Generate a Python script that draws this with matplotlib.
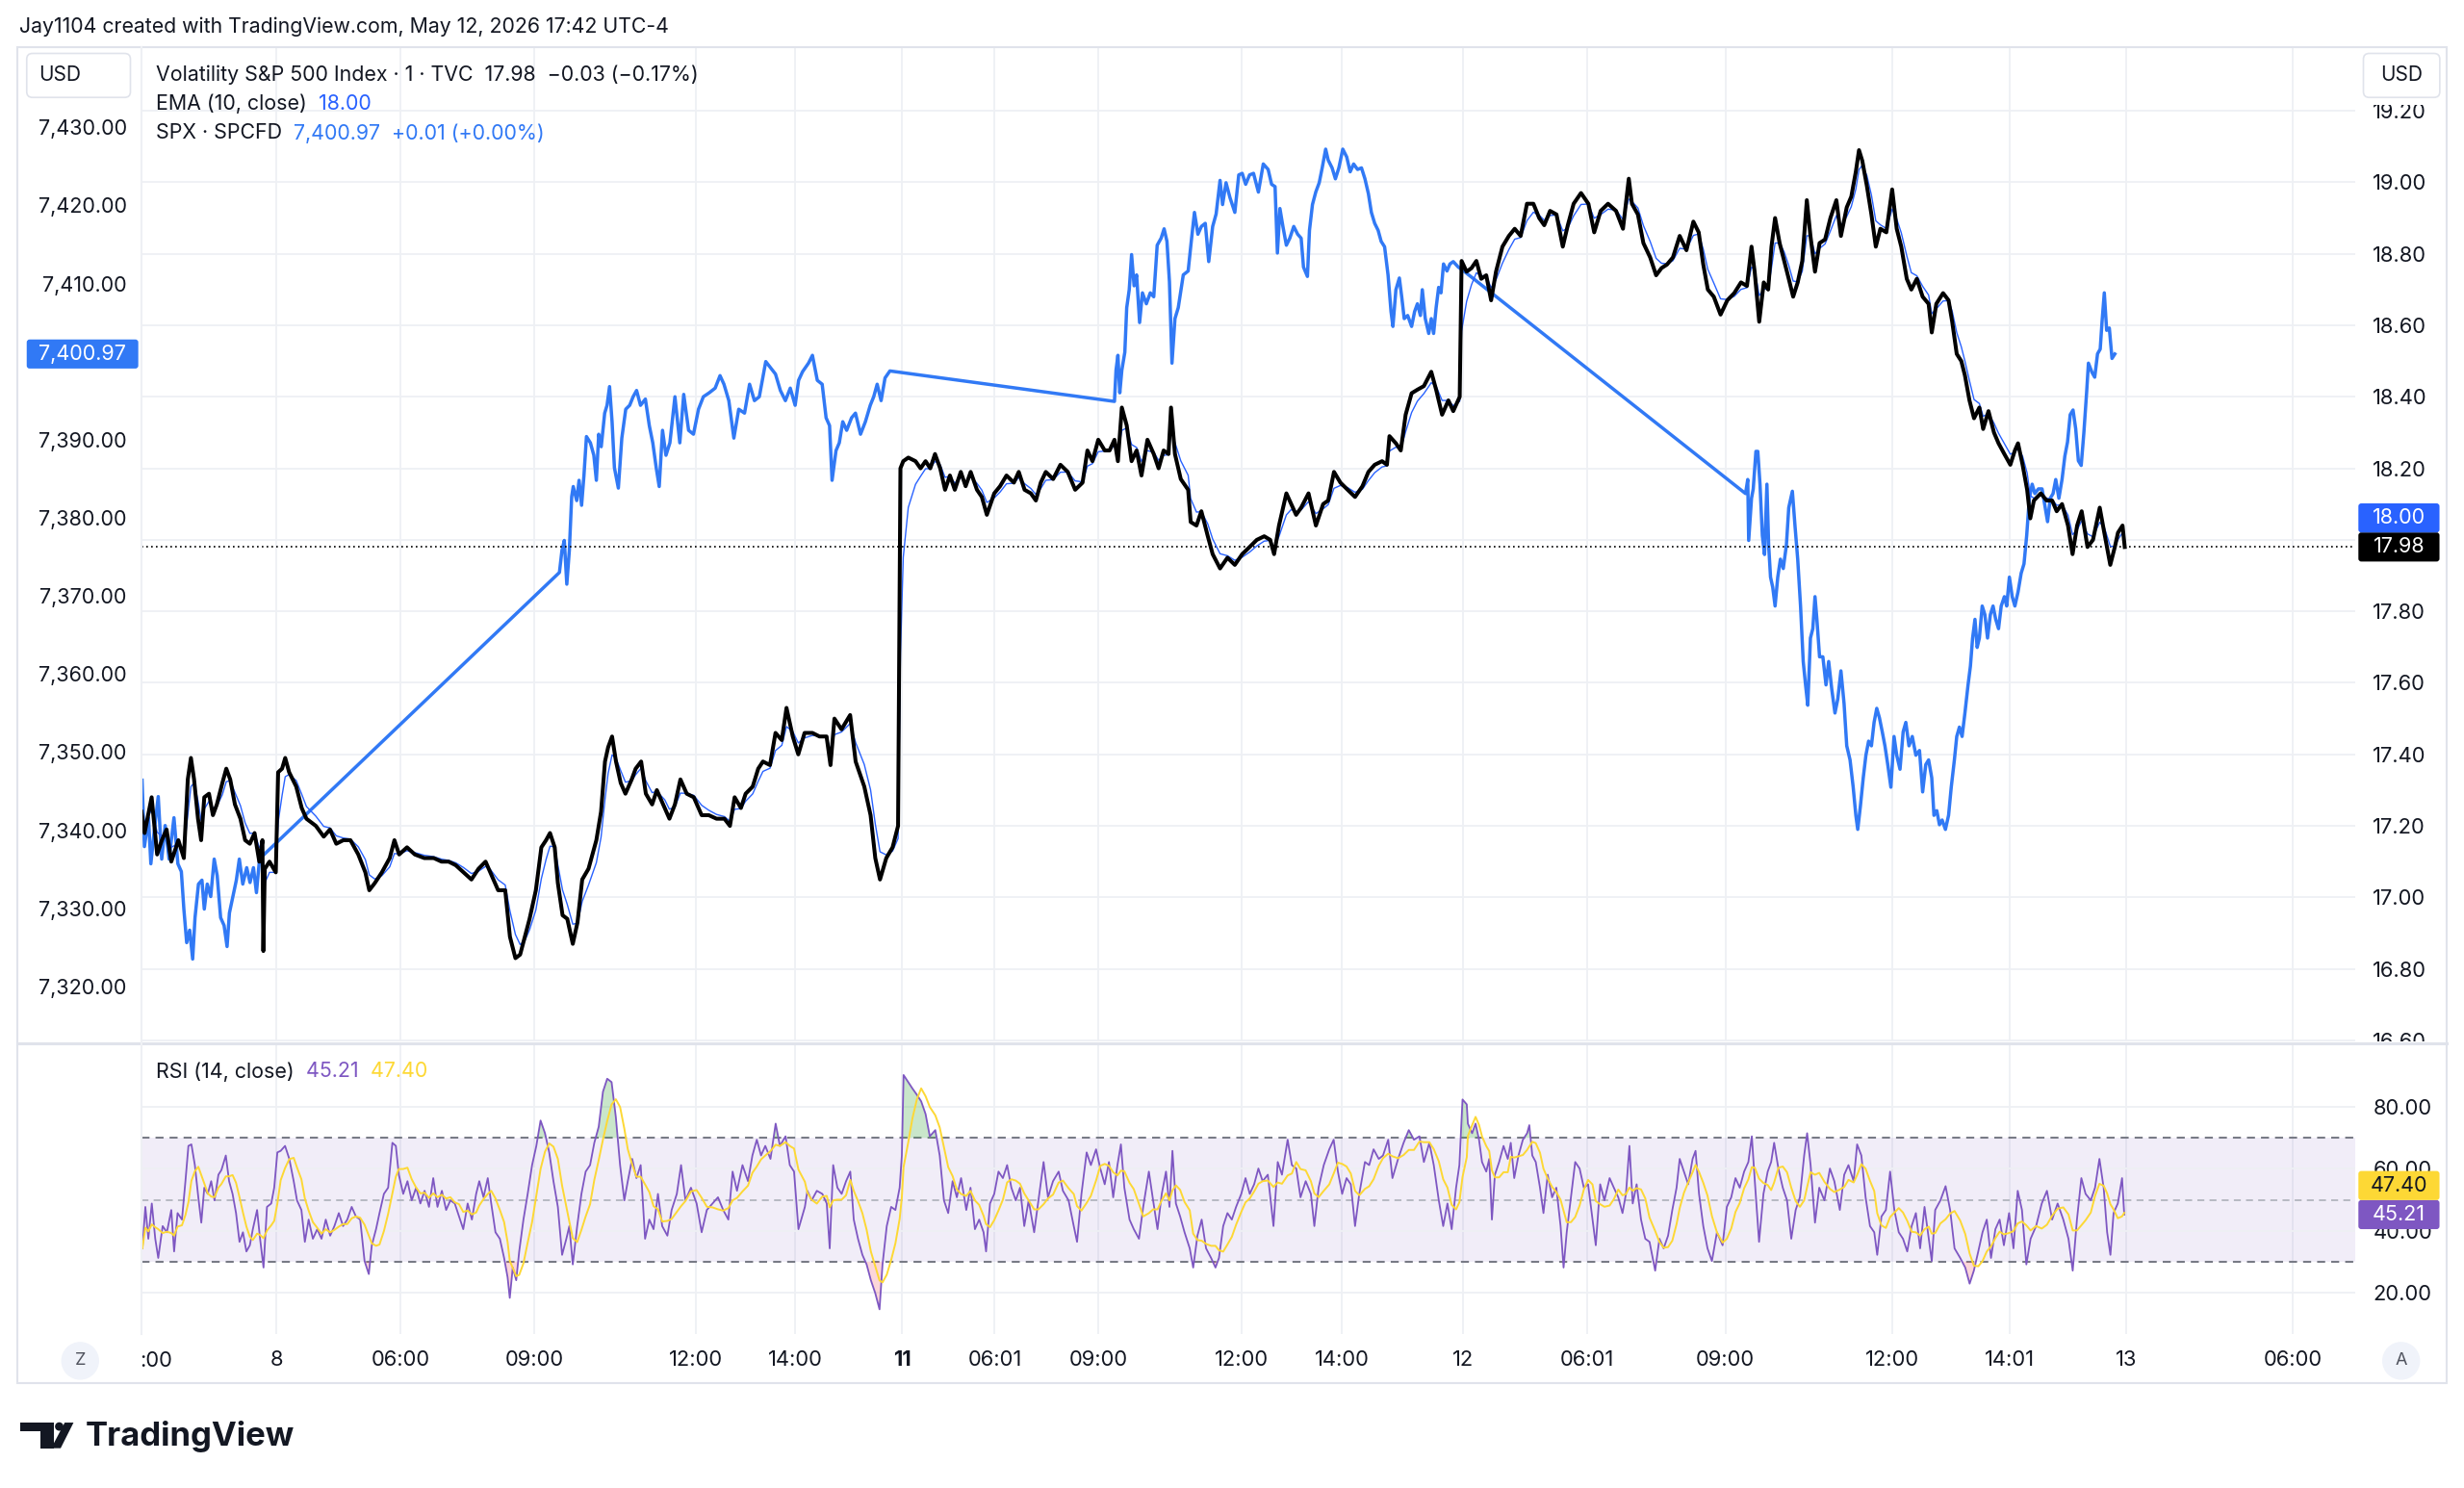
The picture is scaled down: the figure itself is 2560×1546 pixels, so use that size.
"""VIX 1-minute chart with SPX overlay and RSI pane (TradingView-style)."""
import matplotlib
matplotlib.use("Agg")
import matplotlib.pyplot as plt
import numpy as np
import pandas as pd
from matplotlib.patches import Rectangle, FancyBboxPatch, Polygon, Circle
from matplotlib.transforms import IdentityTransform, blended_transform_factory
from matplotlib.lines import Line2D

# ---------------- data: x is the bar index on the VIX 1-minute timeline ----------------
# VIX close, May 8 session
vix_bar_8 = [0, 2, 6.5, 10, 13, 16, 19, 23.5, 27, 29.5, 31.5, 33.5, 36, 38, 40, 43, 45.5, 48,
             51.5, 54, 56.5, 59.5, 63, 66, 69, 72, 75, 77, 77.6, 78.5, 81.5, 85.5, 87, 89.5,
             91.5, 94, 98.5, 102, 105, 111, 116, 120, 124, 128.5, 133, 138, 142.5, 145, 148.5,
             153, 158, 161, 164, 169, 174, 180, 186, 191, 195.5, 200, 205, 210, 214.5, 219, 222,
             227, 231.5, 234.5, 238, 241, 244, 247, 251, 254.5, 257.5, 260, 263, 265, 268, 271,
             274.5, 277.5, 280.5, 284.5, 289.5, 292.5, 295, 297, 299.5, 302, 305, 308, 312,
             314.5, 318, 321, 325, 328, 333, 336, 339.5, 343, 347, 351.5, 356.5, 361, 366, 371,
             374.5, 377.5, 381.5, 384.5, 389, 392.5, 395.5, 400, 403.5, 407.5, 410.5, 414.5, 418,
             422, 427, 431.5, 436, 438.5, 441, 445.5, 451, 454.5, 460, 464, 467, 470, 474, 478,
             481.5]
vix_8 = [17.24, 17.18, 17.28, 17.12, 17.16, 17.19, 17.10, 17.16, 17.11, 17.33, 17.39, 17.33,
         17.22, 17.16, 17.28, 17.29, 17.23, 17.26, 17.32, 17.36, 17.33, 17.26, 17.22, 17.16,
         17.15, 17.18, 17.10, 17.16, 16.85, 17.08, 17.10, 17.07, 17.35, 17.36, 17.39, 17.35,
         17.31, 17.25, 17.22, 17.20, 17.17, 17.19, 17.15, 17.16, 17.16, 17.12, 17.07, 17.02,
         17.04, 17.07, 17.11, 17.16, 17.12, 17.14, 17.12, 17.11, 17.11, 17.10, 17.10, 17.09,
         17.07, 17.05, 17.08, 17.10, 17.07, 17.02, 17.02, 16.89, 16.83, 16.84, 16.89, 16.94,
         17.02, 17.14, 17.16, 17.18, 17.14, 17.04, 16.95, 16.94, 16.87, 16.93, 17.05, 17.08,
         17.16, 17.24, 17.38, 17.42, 17.45, 17.38, 17.32, 17.29, 17.33, 17.36, 17.38, 17.29,
         17.26, 17.30, 17.25, 17.22, 17.26, 17.33, 17.29, 17.28, 17.23, 17.23, 17.22, 17.22,
         17.20, 17.28, 17.25, 17.29, 17.31, 17.36, 17.38, 17.37, 17.46, 17.44, 17.53, 17.45,
         17.40, 17.46, 17.46, 17.45, 17.45, 17.37, 17.50, 17.47, 17.51, 17.38, 17.31, 17.23,
         17.11, 17.05, 17.11, 17.14, 17.20]

# VIX close, May 11 session
vix_bar_11 = [483, 484.8, 488, 492.6, 495.8, 499, 502, 505, 508.3, 511.4, 514.5, 517.6, 521.4,
              524.5, 527.7, 531.7, 534.8, 538, 542.7, 546.4, 550.5, 555.2, 558.3, 562, 566,
              569.2, 572.3, 575.5, 580.2, 584.8, 589.5, 594.2, 598.9, 602, 605.2, 608.9, 613,
              616.1, 619.2, 621.4, 623.9, 627, 630.1, 633.3, 636.4, 640.2, 644.2, 647.3, 650.5,
              653.6, 655.2, 657.7, 661.4, 666.1, 667.7, 671.4, 674.5, 678.6, 681.7, 686.4, 691.1,
              695.8, 700.5, 705.2, 709.8, 714.5, 718.3, 720.8, 723.9, 728.6, 731.7, 734.8, 738,
              742.7, 747.4, 752, 755.2, 758.9, 763, 767.6, 772.3, 777, 780.8, 784.8, 789.5, 792.6,
              794.2, 798.3, 801.4, 804.5, 808.3, 812, 816.1, 820.8, 823.9, 827.7, 831.7, 834.8,
              838.9]
vix_11 = [18.20, 18.22, 18.23, 18.22, 18.20, 18.22, 18.20, 18.24, 18.20, 18.14, 18.18, 18.14,
          18.19, 18.15, 18.19, 18.14, 18.12, 18.07, 18.13, 18.15, 18.18, 18.16, 18.19, 18.14,
          18.13, 18.11, 18.16, 18.19, 18.17, 18.21, 18.19, 18.14, 18.16, 18.25, 18.22, 18.28,
          18.25, 18.25, 18.28, 18.22, 18.37, 18.32, 18.22, 18.25, 18.18, 18.28, 18.24, 18.20,
          18.25, 18.24, 18.37, 18.24, 18.17, 18.14, 18.05, 18.04, 18.08, 18.01, 17.96, 17.92,
          17.95, 17.93, 17.96, 17.98, 18.00, 18.01, 18.00, 17.96, 18.04, 18.13, 18.10, 18.07,
          18.09, 18.13, 18.04, 18.10, 18.11, 18.19, 18.16, 18.14, 18.12, 18.15, 18.19, 18.21,
          18.22, 18.21, 18.29, 18.27, 18.25, 18.35, 18.41, 18.42, 18.43, 18.47, 18.42, 18.35,
          18.39, 18.36, 18.40]

# VIX close, May 12 session
vix_bar_12 = [840.1, 843.3, 846.4, 849.5, 852.6, 855.8, 858.9, 862, 866.1, 870.2, 873.9, 877.7,
              881.7, 885.8, 889.5, 892.7, 896.4, 900.5, 904.5, 907.7, 911.4, 916.1, 920.8, 924.5,
              928.6, 933.3, 938.4, 942.8, 946.5, 948.5, 952.3, 955.8, 960.1, 963.9, 967.3, 970.8,
              974.6, 978.9, 983.2, 987.6, 991, 993.9, 996.8, 1000.6, 1004.9, 1009.2, 1013.6,
              1017.9, 1021.7, 1024.6, 1026.6, 1029.5, 1032.4, 1035.2, 1037.3, 1039.6, 1042.5,
              1045.4, 1048.3, 1051.1, 1054, 1056.9, 1059.8, 1062.1, 1065, 1067.9, 1071.4, 1074.8,
              1078.6, 1081.5, 1085.2, 1088.1, 1091, 1093, 1095.1, 1098, 1100.9, 1103.7, 1106.6,
              1110.4, 1114.1, 1117, 1119.9, 1123.4, 1126.3, 1129.8, 1133.5, 1137.3, 1139.3,
              1142.2, 1146.5, 1150, 1152.3, 1155.2, 1158.1, 1160.4, 1163.3, 1166.2, 1169.6, 1172,
              1175.4, 1178.9, 1181.8, 1185.5, 1189.3, 1192.2, 1194.2, 1197.1, 1200, 1202, 1204.3,
              1208.7, 1212.4, 1215.9, 1218.8, 1222.2, 1226, 1228.9, 1231.8, 1234.7, 1238.4,
              1241.9, 1246.2, 1249.1, 1252.9, 1255.8, 1257.8, 1260.7, 1262.1]
vix_12 = [18.78, 18.75, 18.76, 18.78, 18.73, 18.74, 18.67, 18.75, 18.82, 18.85, 18.87, 18.85,
          18.94, 18.94, 18.90, 18.88, 18.92, 18.91, 18.82, 18.88, 18.94, 18.97, 18.94, 18.86,
          18.92, 18.94, 18.92, 18.87, 19.01, 18.94, 18.91, 18.83, 18.79, 18.74, 18.76, 18.77,
          18.79, 18.85, 18.81, 18.89, 18.86, 18.77, 18.70, 18.68, 18.63, 18.67, 18.69, 18.72,
          18.71, 18.82, 18.75, 18.61, 18.72, 18.70, 18.82, 18.90, 18.83, 18.78, 18.73, 18.68,
          18.72, 18.78, 18.95, 18.85, 18.75, 18.83, 18.84, 18.90, 18.95, 18.85, 18.93, 18.96,
          19.03, 19.09, 19.06, 18.99, 18.91, 18.82, 18.87, 18.86, 18.98, 18.87, 18.82, 18.73,
          18.70, 18.73, 18.68, 18.66, 18.58, 18.66, 18.69, 18.67, 18.61, 18.52, 18.50, 18.46,
          18.39, 18.34, 18.37, 18.31, 18.36, 18.30, 18.27, 18.24, 18.21, 18.25, 18.27, 18.21,
          18.14, 18.06, 18.11, 18.13, 18.11, 18.11, 18.08, 18.10, 18.04, 17.96, 18.04, 18.08,
          17.98, 18.00, 18.09, 18.02, 17.93, 17.98, 18.02, 18.04, 17.98]

# SPX CFD, plotted on the same bars (no prints during the VIX-only hours)
spx_bar_a = [0.4, 1.9, 4.5, 6, 8.2, 10.7, 12.9, 15.1, 17.6, 20.7, 23.2, 25.4, 27, 28.8, 30.7,
             32.6, 34.1, 36.3, 38.5, 40, 41.9, 44.1, 46.3, 48.2, 50.4, 52.6, 54.5, 56, 58.2,
             60.4, 62.3, 64.5, 67, 69.1, 71.3, 73.2, 75.4, 77.6]
spx_a = [7346.4, 7337.9, 7341.6, 7335.7, 7340.0, 7344.3, 7336.3, 7340.6, 7336.3, 7341.6, 7335.7,
         7334.7, 7329.9, 7325.6, 7327.2, 7323.5, 7328.8, 7333.1, 7333.6, 7329.9, 7333.1, 7331.5,
         7336.3, 7334.2, 7328.8, 7327.8, 7325.1, 7329.4, 7331.5, 7333.6, 7336.3, 7333.1, 7335.2,
         7333.3, 7335.2, 7332.0, 7336.8, 7336.8]
spx_bar_b = [266, 267.6, 269.1, 270.7, 272.3, 273.8, 274.8, 277, 278.5, 280.1, 281.6, 283.2,
             285.7, 287.9, 289.5, 291, 292.6, 294.8, 296.3, 297.9, 299.5, 301, 303.5, 305.7,
             308.2, 310.7, 312.9, 315.1, 317.6, 320.7, 323.2, 325.4, 327.6, 329.5, 331.6, 333.8,
             336.3, 339.5, 342.6, 345.1, 348.2, 351.3, 354.5, 357.6, 361.3, 365.1, 368.2, 370.7,
             373.8, 377, 380.1, 383.8, 387, 390.1, 393.2, 397.3, 400.4, 403.5, 406.6, 409.8,
             412.9, 416, 418.2, 420.7, 424.5, 427, 430.1, 433.2, 435.7, 437.9, 439.5, 442, 444.1,
             446.3, 448.8, 451.9, 454.4, 457.6, 460.7, 463.8, 466, 468.2, 470.7, 473.2, 476.3]
spx_b = [7373.0, 7375.8, 7377.1, 7371.5, 7375.8, 7382.7, 7384.0, 7382.2, 7384.8, 7381.6, 7385.4,
         7390.4, 7389.6, 7388.0, 7384.8, 7390.7, 7389.1, 7393.4, 7394.4, 7396.8, 7392.3, 7386.4,
         7383.8, 7390.2, 7393.9, 7394.4, 7395.5, 7396.3, 7394.4, 7395.2, 7391.8, 7389.6, 7386.4,
         7384.0, 7391.2, 7388.0, 7389.6, 7395.5, 7389.6, 7395.8, 7391.2, 7390.7, 7393.9, 7395.5,
         7396.0, 7396.6, 7398.2, 7397.1, 7395.0, 7390.2, 7393.9, 7393.4, 7397.1, 7395.0, 7395.5,
         7400.0, 7399.2, 7398.4, 7396.3, 7395.0, 7396.6, 7394.4, 7397.6, 7398.7, 7399.8, 7400.8,
         7397.6, 7397.1, 7392.8, 7391.8, 7384.8, 7388.6, 7389.6, 7392.3, 7391.2, 7392.8, 7393.4,
         7390.7, 7392.3, 7394.4, 7395.5, 7397.1, 7395.0, 7397.9, 7398.8]
spx_bar_c = [619.2, 620.2, 621.4, 622.6, 623.9, 625.8, 627, 628.6, 630.1, 631.7, 633.3, 635.2,
             637, 639.5, 642, 644.2, 646.4, 648.9, 650.8, 652.6, 654.2, 655.8, 657.7, 659.8, 663,
             666.1, 668.3, 670.1, 672.3, 674.5, 677, 679.2, 681.7, 683.9, 686.4, 688, 690.2,
             692.7, 695.8, 698.3, 700.5, 702.7, 705.2, 707.7, 710.8, 713.9, 717, 719.2, 721.4,
             722.9, 724.5, 726.4, 728.6, 730.8, 733.3, 735.8, 738, 739.5, 742, 743.3, 745.2,
             747.3, 749.5, 751.4, 753.6, 755.2, 757.7, 759.8, 762, 764.5, 767, 769.2, 771.4,
             773.9, 776.4, 778.6, 780.8, 782.7, 784.8, 787, 788.9, 791.1, 793.3, 795.2, 796.4,
             798.3, 800.5, 802, 803.6, 805.8, 808.3, 810.2, 812, 813.9, 815.1, 817, 819.2, 820.8,
             822.3, 823.9, 825.5, 827, 828.6, 830.8, 832.7, 834.8, 838, 840.2]
spx_c = [7394.9, 7398.9, 7400.8, 7396.0, 7398.9, 7401.2, 7406.9, 7409.2, 7413.7, 7409.7, 7411.1,
         7405.0, 7408.8, 7407.4, 7408.8, 7408.3, 7414.9, 7415.8, 7417.0, 7415.4, 7410.2, 7399.8,
         7405.5, 7406.9, 7411.1, 7411.6, 7415.8, 7419.1, 7416.3, 7417.3, 7417.7, 7412.8, 7417.3,
         7418.9, 7423.2, 7420.1, 7422.9, 7421.0, 7419.1, 7423.9, 7424.1, 7422.7, 7423.9, 7424.1,
         7421.7, 7425.3, 7424.6, 7422.7, 7422.4, 7413.9, 7419.6, 7417.3, 7414.9, 7415.8, 7417.3,
         7416.3, 7415.8, 7412.1, 7410.9, 7416.8, 7420.1, 7421.7, 7422.9, 7424.8, 7427.2, 7425.8,
         7424.8, 7423.4, 7424.8, 7427.2, 7426.2, 7424.3, 7425.3, 7424.6, 7424.8, 7423.4, 7421.5,
         7419.1, 7417.7, 7416.8, 7415.4, 7414.7, 7411.1, 7406.4, 7404.5, 7409.2, 7410.7, 7408.3,
         7405.5, 7405.9, 7404.5, 7406.4, 7407.4, 7405.9, 7409.2, 7405.5, 7403.6, 7405.5, 7403.6,
         7406.9, 7409.5, 7408.8, 7412.5, 7411.6, 7412.5, 7412.8, 7412.1, 7411.8]
spx_bar_d = [1020.8, 1022.2, 1022.8, 1024.6, 1025.7, 1027.4, 1028.6, 1030, 1031.5, 1032.9,
             1034.4, 1035.5, 1036.7, 1038.1, 1039.6, 1041.3, 1043, 1044.8, 1046.8, 1048.3,
             1050.6, 1052.3, 1054, 1055.8, 1057.5, 1059, 1060.4, 1062.1, 1063.6, 1065, 1066.2,
             1067.9, 1070, 1072, 1073.7, 1075.7, 1077.7, 1079.5, 1081.5, 1083.5, 1085.2, 1087.3,
             1089.3, 1091, 1092.2, 1093.9, 1095.7, 1097.4, 1099.1, 1100.9, 1102.6, 1104.3, 1106,
             1107.8, 1109.5, 1111.3, 1113.3, 1115.3, 1117, 1119.1, 1121.1, 1122.8, 1124.8,
             1126.9, 1129.2, 1131.5, 1133.5, 1135.5, 1137.3, 1139.3, 1140.7, 1142.5, 1144.2,
             1145.9, 1148, 1150, 1151.7, 1153.7, 1155.2, 1156.9, 1158.6, 1160.4, 1162.4, 1163.9,
             1165.3, 1166.8, 1168.2, 1169.6, 1171.4, 1173.1, 1174.8, 1176.6, 1178.3, 1180,
             1181.8, 1183.5, 1185.5, 1187, 1188.7, 1190.5, 1192.2, 1194.2, 1196.2, 1198, 1199.7,
             1201.4, 1203.2, 1204.9, 1207.2, 1209.5, 1211.5, 1213, 1214.7, 1216.5, 1218.2,
             1220.2, 1222.2, 1224, 1225.7, 1227.4, 1229.2, 1230.9, 1232.6, 1234.4, 1236.1,
             1237.9, 1239, 1241.3, 1243, 1244.8, 1246.5, 1247.7, 1249.1, 1250.6, 1252.3, 1254,
             1255.8]
spx_d = [7383.1, 7384.9, 7377.1, 7382.5, 7383.7, 7388.5, 7388.5, 7384.3, 7377.7, 7375.3, 7384.3,
         7376.5, 7372.4, 7371.1, 7368.7, 7372.4, 7374.7, 7373.5, 7376.5, 7381.3, 7383.4, 7378.9,
         7374.7, 7368.7, 7361.6, 7358.6, 7356.0, 7364.6, 7365.8, 7369.9, 7367.0, 7362.2, 7362.2,
         7358.6, 7361.6, 7358.0, 7355.0, 7356.8, 7360.4, 7356.2, 7350.8, 7349.0, 7345.5, 7341.9,
         7340.1, 7343.1, 7346.7, 7349.6, 7351.4, 7350.8, 7353.8, 7355.6, 7354.4, 7352.6, 7350.8,
         7348.4, 7345.5, 7352.0, 7349.6, 7347.8, 7352.6, 7353.8, 7350.8, 7352.0, 7349.6, 7350.2,
         7344.9, 7348.4, 7349.0, 7346.7, 7341.9, 7342.5, 7340.7, 7341.3, 7340.1, 7341.9, 7345.5,
         7349.0, 7352.0, 7353.2, 7352.0, 7355.0, 7358.6, 7361.0, 7364.6, 7367.0, 7363.4, 7364.6,
         7368.7, 7367.6, 7364.6, 7367.6, 7368.7, 7367.0, 7365.8, 7368.7, 7369.9, 7368.7, 7372.4,
         7369.9, 7368.7, 7370.5, 7372.9, 7374.1, 7377.7, 7382.5, 7384.3, 7383.1, 7383.7, 7383.7,
         7381.3, 7379.5, 7382.5, 7383.1, 7384.9, 7382.5, 7384.9, 7387.9, 7389.7, 7393.2, 7393.8,
         7391.4, 7387.3, 7386.7, 7390.9, 7396.2, 7399.8, 7398.6, 7398.0, 7401.0, 7401.6, 7405.2,
         7408.8, 7404.0, 7404.3, 7400.4, 7400.97]

# RSI(14) of VIX close
rsi_bar_a = [0.6, 2.5, 4.4, 6.6, 8.8, 10.7, 13.5, 16.2, 19, 20.8, 23, 25.8, 28, 29.9, 31.8, 34,
             36.2, 38.1, 40, 42.2, 44.4, 46.5, 49, 50.9, 53.7, 55.8, 58, 60.2, 62.4, 64.6, 66.8,
             69, 70.9, 73.6, 75.5, 77.7, 79.9, 82.6, 84.5, 86.5, 88.6, 91.4, 94.1, 96.9, 99,
             101.8, 104, 106.4, 109.1, 111.9, 114.6, 117.3, 120.1, 122.8, 125.6, 128.3, 131,
             133.8, 136.5, 139.2, 142, 144.7, 146.6, 149.3, 151.5, 154.3, 157, 159.7, 161.9,
             163.8, 166.6, 169.3, 172, 174.8, 177.5, 180.2, 183, 185.7, 188.4, 191.2, 193.9,
             196.6, 199.4, 202.1, 204.8, 207.6, 210.3, 213, 215, 217.7, 220.4, 222.6, 225.3,
             228.1, 230.8, 233, 234.4, 236.3, 238.5, 240.4, 243.1, 245.8, 248.6, 251.3, 254,
             256.8, 259.5, 262.2, 265, 267.7, 270.4, 272.3, 274.5, 277.3, 280, 282.7, 285.5,
             288.2, 291, 293.7, 296.4, 299.2, 301.9, 304.6, 307.3, 309.5, 312.3, 315, 317.7,
             320.5, 323.2, 325.9, 328.7, 331.4, 334.7, 337.4, 340.7, 343.4, 346.2, 349.7, 353.3,
             356.5, 359.8, 363.4, 366.9, 370.2, 373.5, 376.2, 379, 382.5, 386, 388.8, 391.6,
             394.3, 397, 400.3, 403.6, 406.3, 409.9, 412.6, 415.3, 418.1, 422.2]
rsi_a = [34.3, 47.7, 37.4, 48.8, 37.4, 31.2, 41.5, 39.5, 46.7, 33.3, 45.7, 43.6, 56.0, 67.4, 67.9,
         61.2, 50.8, 42.6, 53.9, 51.9, 56.0, 49.8, 58.1, 59.6, 64.3, 56.0, 51.9, 45.7, 36.4, 39.5,
         33.3, 35.3, 40.5, 46.7, 37.4, 28.1, 47.7, 48.8, 53.9, 65.3, 65.8, 67.4, 63.2, 56.0, 49.8,
         46.7, 36.4, 43.6, 37.4, 40.5, 37.4, 43.6, 38.4, 41.5, 45.7, 41.5, 43.6, 47.7, 44.6, 43.6,
         30.2, 26.0, 35.3, 40.5, 45.7, 51.9, 53.9, 68.4, 67.4, 58.1, 51.9, 56.0, 49.8, 53.9, 48.8,
         52.9, 47.7, 57.0, 47.7, 52.9, 46.7, 49.8, 48.8, 44.6, 40.5, 48.8, 43.6, 51.9, 56.0, 50.8,
         57.0, 48.8, 39.5, 37.4, 31.2, 25.0, 18.3, 28.1, 24.0, 33.3, 43.6, 51.9, 61.2, 67.4, 75.6,
         71.5, 65.3, 56.0, 47.7, 32.2, 37.4, 41.5, 29.1, 41.5, 51.9, 59.1, 61.2, 68.4, 73.6, 84.9,
         89.1, 88.0, 76.7, 61.2, 49.8, 56.0, 63.2, 57.0, 61.2, 37.4, 43.6, 40.5, 51.9, 41.5, 38.4,
         46.7, 51.9, 61.2, 49.8, 53.9, 48.8, 39.5, 46.7, 48.8, 50.8, 46.7, 43.6, 59.1, 52.9, 61.2,
         56.0, 64.3, 69.4, 64.3, 67.4, 63.2, 74.6, 67.4, 70.5, 61.2, 59.1, 40.5, 47.7]
rsi_bar_b = [423.8, 426.5, 429.8, 433.3, 436.1, 438, 440.2, 442.9, 445.6, 448.4, 451.1, 453.3,
             456, 458.8, 461.5, 464.2, 467, 469.7, 471.6, 474.3, 477.1, 479.8, 482.5, 483.9, 485,
             488, 490.7, 493.5, 496.2, 499, 501.7, 505.2, 508, 510.7, 513.4, 516.2, 518.9, 521.6,
             524.9, 527.6, 530.4, 533.1, 535.9, 537.5, 540, 542.7, 545.4, 548.2, 550.9, 553.6,
             556.4, 559.1, 561.8, 564.6, 568.1, 570.8, 574.1, 576.9, 580.1, 583.7, 586.4, 590,
             593.3, 595.4, 598.2, 601.5, 604.2, 607.5, 610.2, 613, 615.7, 618.4, 621.1, 623.3,
             625.5, 628.8, 631.5, 634.8, 637.5, 641.1, 643.8, 646.6, 649.3, 652, 654.2, 656.1,
             658.3, 661, 663.8, 667.1, 669.3, 672, 674.7, 677.5, 680.7, 683.5, 685.7, 688.4,
             691.1, 693.9, 696.6, 699.9, 702.6, 705.3, 708.1, 710.8, 713.5, 716.8, 720.4, 723.1,
             725.8, 729.4, 732.1, 734.9, 737.6, 740.9, 744.2, 746.4, 749.1, 752.4, 755.9, 758.7,
             761.4, 764.1, 766.9, 769.6, 772.3, 775, 778.6, 781.3, 784.1, 787.4, 790.1, 793.4,
             796.1, 799.7, 803.2, 806.5, 809.8, 813.3, 816.1, 819.6, 822.4, 825.6, 828.4, 831.1,
             833.8, 836.6, 838.7, 840.7, 843.4]
rsi_b = [52.9, 49.8, 52.9, 51.9, 48.8, 34.3, 61.2, 53.9, 51.9, 56.0, 59.1, 43.6, 37.4, 32.2,
         29.1, 24.0, 19.8, 14.6, 29.1, 41.5, 47.7, 46.7, 53.9, 64.3, 90.3, 88.0, 85.9, 83.9, 81.8,
         77.7, 70.5, 72.5, 64.3, 49.8, 45.7, 56.0, 50.8, 57.0, 46.7, 53.9, 40.5, 43.6, 39.5, 33.3,
         48.8, 51.9, 59.1, 57.0, 61.2, 53.9, 49.8, 53.9, 41.5, 49.8, 39.5, 49.8, 62.2, 50.8, 56.0,
         59.1, 52.9, 49.8, 41.5, 36.4, 51.9, 65.3, 61.2, 66.3, 60.1, 55.0, 62.2, 50.8, 61.2, 67.9,
         53.9, 43.6, 40.5, 37.4, 47.7, 59.1, 49.8, 40.5, 51.9, 59.1, 47.7, 65.8, 48.8, 44.6, 39.5,
         34.3, 28.1, 38.4, 43.6, 34.3, 31.2, 28.1, 31.2, 41.5, 45.7, 43.6, 47.7, 51.9, 57.0, 51.9,
         55.0, 60.1, 56.0, 58.1, 41.5, 62.2, 58.1, 69.4, 61.2, 60.1, 50.8, 56.0, 51.9, 41.5, 53.9,
         61.2, 66.3, 69.4, 59.1, 51.9, 57.0, 55.0, 41.5, 51.9, 62.2, 61.2, 66.3, 63.2, 64.3, 69.4,
         57.0, 63.2, 68.4, 72.5, 69.4, 70.5, 62.2, 68.4, 61.2, 49.8, 41.5, 48.8, 40.5, 53.9, 61.2,
         82.4, 80.8]
rsi_bar_c = [844.1, 846.8, 849, 851.2, 853.1, 855.8, 857.7, 859.4, 861.3, 864, 866.8, 869.5,
             871.4, 873.6, 876.3, 879.1, 881.8, 883.2, 885.1, 887.3, 890, 892.2, 894.9, 897.7,
             900.4, 903.1, 905, 907, 909.7, 912.4, 915.2, 917.9, 920.6, 923.4, 925.5, 928.3, 931,
             934.3, 937, 939.8, 942.5, 944.7, 946.9, 949, 951.5, 954.3, 957, 959.7, 963.3, 966,
             968.7, 971.5, 974.2, 976.9, 978.9, 981.6, 984.3, 987.1, 989, 991.2, 993.9, 996.6,
             999.4, 1002.6, 1006.2, 1008.9, 1011.7, 1014.4, 1017.1, 1019.9, 1022.6, 1024.8,
             1026.7, 1029.4, 1032.2, 1034.9, 1037.1, 1039, 1041.7, 1044.5, 1047.2, 1049.9,
             1052.7, 1055.4, 1058.1, 1060, 1062.2, 1065, 1067.7, 1071, 1074.5, 1077.3, 1080.8,
             1083.6, 1086.3, 1089.6, 1091.8, 1094.5, 1097.2, 1100, 1102.7, 1104.6, 1107.3,
             1110.1, 1112.8, 1115.5, 1118.3, 1121, 1123.7, 1126.5, 1129.2, 1131.9, 1134.7,
             1137.4, 1139.3, 1141.5, 1144.8, 1148.1, 1151, 1153.8, 1157.4, 1160.6, 1163.4,
             1166.1, 1168.9, 1171.6, 1174.3, 1177, 1179.8, 1182.5, 1185.2, 1188.5, 1191.3, 1194,
             1196.7, 1199.5, 1202.2, 1205.7, 1209.3, 1212.6, 1215.9, 1219.4, 1223, 1226.3, 1229,
             1231.7, 1234.5, 1237.2, 1240.5, 1243.2, 1246, 1248.7, 1250.9, 1253, 1255, 1257.7,
             1260.4, 1261.8]
rsi_c = [74.6, 71.5, 74.6, 69.4, 62.2, 59.1, 63.2, 43.6, 58.1, 62.2, 67.4, 63.2, 68.4, 57.0,
         64.3, 69.4, 71.5, 74.1, 64.3, 62.2, 53.9, 45.7, 58.1, 50.8, 53.9, 41.5, 28.1, 39.5, 50.8,
         62.2, 60.1, 53.9, 55.0, 43.6, 35.3, 55.0, 49.8, 57.0, 53.9, 50.8, 45.7, 51.9, 67.4, 48.8,
         55.0, 43.6, 37.4, 36.4, 27.1, 37.4, 34.3, 38.4, 46.7, 53.9, 63.2, 59.1, 55.0, 63.2, 65.8,
         51.9, 41.5, 34.3, 30.2, 39.5, 35.3, 47.7, 50.8, 57.0, 53.9, 59.1, 62.2, 70.5, 56.0, 36.4,
         51.9, 59.1, 62.2, 68.4, 60.1, 53.9, 49.8, 37.4, 46.7, 50.8, 64.3, 71.5, 61.2, 42.6, 53.9,
         49.8, 60.1, 56.0, 46.7, 58.1, 61.2, 56.0, 67.9, 64.3, 50.8, 41.5, 39.5, 32.2, 44.6, 46.7,
         59.1, 46.7, 39.5, 37.4, 33.3, 41.5, 45.7, 34.3, 47.7, 37.4, 30.2, 46.7, 49.8, 54.4, 46.7,
         34.3, 31.2, 28.1, 22.9, 27.1, 33.3, 39.5, 43.6, 31.2, 40.5, 43.6, 35.3, 45.7, 34.3, 52.9,
         46.7, 29.1, 37.4, 41.5, 48.8, 52.9, 43.6, 48.8, 43.6, 37.4, 27.1, 43.6, 57.0, 51.9, 49.8,
         53.9, 63.2, 53.9, 39.5, 32.2, 45.7, 48.8, 57.0, 45.21]

# time axis
tick_bars = [86, 165, 250, 353, 416, 484, 543, 609, 700, 764, 841, 920, 1008, 1114, 1189, 1263, 1369]
tick_text = ["8", "06:00", "09:00", "12:00", "14:00", "11", "06:01", "09:00", "12:00", "14:00",
             "12", "06:01", "09:00", "12:00", "14:01", "13", "06:00"]
n_bars = 1409

vix_last, vix_ema_last = 17.98, 18.00
spx_last = 7400.97
rsi_last, rsi_ma_last = 45.21, 47.40

# ---------------- style ----------------
INK = "#131722"
GRID = "#eef0f4"
BORDER = "#e0e3eb"
SPX_BLUE = "#3179f5"
EMA_BLUE = "#2962ff"
PURPLE = "#7e57c2"
YELLOW = "#fdd835"
plt.rcParams["font.family"] = ["Inter", "DejaVu Sans"]

W, H = 2560, 1546
K = 2560 / 1568          # layout was measured on a 1568-px-wide view


def px(x):
    return x * K


def py(y):
    return H - y * K


def fx(x):
    return x * K / W


def fy(y):
    return 1 - y * K / H


vix_bar = np.array(vix_bar_8 + vix_bar_11 + vix_bar_12)
vix_close = np.array(vix_8 + vix_11 + vix_12)
spx_bar = np.array(spx_bar_a + spx_bar_b + spx_bar_c + spx_bar_d)
spx_close = np.array(spx_a + spx_b + spx_c + spx_d)
rsi_bar = np.array(rsi_bar_a + rsi_bar_b + rsi_bar_c)
rsi_val = np.array(rsi_a + rsi_b + rsi_c)

vix_ema = pd.Series(vix_close).ewm(span=3, adjust=False).mean().values
rsi_ma = pd.Series(rsi_val).rolling(5, min_periods=1).mean().values

fig = plt.figure(figsize=(W / 100, H / 100), dpi=100, facecolor="white")
ax_spx = fig.add_axes([fx(90), fy(663), fx(1499) - fx(90), fy(30) - fy(663)])
ax_vix = ax_spx.twinx()
ax_rsi = fig.add_axes([fx(90), fy(849), fx(1499) - fx(90), fy(665) - fy(849)], sharex=ax_spx)

for ax in (ax_spx, ax_vix, ax_rsi):
    for s in ax.spines.values():
        s.set_visible(False)
    ax.set_xlim(0, n_bars)

# ---------------- main pane ----------------
ax_spx.set_ylim(7312.9, 7440.26)
ax_vix.set_ylim(16.596, 19.378)

vix_ticks = np.round(np.arange(16.6, 19.21, 0.2), 2)
spx_ticks = np.arange(7320, 7431, 10)
grid_tr = blended_transform_factory(ax_spx.transAxes, ax_vix.transData)
for v in vix_ticks:
    ax_spx.plot([0, 1], [v, v], transform=grid_tr, color=GRID, lw=1.3, zorder=0)
for b in tick_bars:
    ax_spx.axvline(b, color=GRID, lw=1.3, zorder=0)
    ax_rsi.axvline(b, color=GRID, lw=1.3, zorder=0)

ax_spx.plot(spx_bar, spx_close, color=SPX_BLUE, lw=2.5, zorder=3, solid_joinstyle="round")
ax_vix.plot(vix_bar, vix_ema, color=EMA_BLUE, lw=1.0, zorder=2)
ax_vix.plot(vix_bar, vix_close, color="black", lw=2.9, zorder=3, solid_joinstyle="round")
ax_vix.axhline(vix_last, color="black", lw=1.2, ls=(0, (1, 2)), zorder=1)

# labels sitting under the last-price tags are hidden, as on the price scale
ax_spx.set_yticks(spx_ticks)
ax_spx.set_yticklabels(["" if v == 7400 else f"{v:,.2f}" for v in spx_ticks])
ax_spx.yaxis.set_ticks_position("left")
ax_spx.tick_params(axis="y", length=0, pad=11, labelsize=15.5, labelcolor=INK)
ax_vix.set_yticks(vix_ticks)
ax_vix.set_yticklabels(["" if v == 18.0 else f"{v:.2f}" for v in vix_ticks])
ax_vix.tick_params(axis="y", length=0, pad=13, labelsize=15.8, labelcolor=INK)
ax_spx.tick_params(axis="x", length=0, labelbottom=False)
ax_vix.tick_params(axis="x", length=0, labelbottom=False)
ax_spx.set_xticks([])

# ---------------- RSI pane ----------------
ax_rsi.set_ylim(6.6, 100)
ax_rsi.axhspan(30, 70, color=PURPLE, alpha=0.1, lw=0, zorder=0)
for v in (20, 40, 60, 80):
    ax_rsi.axhline(v, color=GRID, lw=1.3, zorder=0)
ax_rsi.axhline(70, color="#787b86", lw=1.5, ls=(0, (4, 3)), zorder=1)
ax_rsi.axhline(30, color="#787b86", lw=1.5, ls=(0, (4, 3)), zorder=1)
ax_rsi.axhline(50, color="#b2b5be", lw=1.3, ls=(0, (4, 3)), zorder=1)
ax_rsi.fill_between(rsi_bar, rsi_val, 70, where=rsi_val >= 70, interpolate=True,
                    color="#4caf50", alpha=0.3, lw=0, zorder=1)
ax_rsi.fill_between(rsi_bar, rsi_val, 30, where=rsi_val <= 30, interpolate=True,
                    color="#f23645", alpha=0.2, lw=0, zorder=1)
ax_rsi.plot(rsi_bar, rsi_val, color=PURPLE, lw=1.3, zorder=3)
ax_rsi.plot(rsi_bar, rsi_ma, color=YELLOW, lw=1.4, zorder=4)

ax_rsi.yaxis.tick_right()
ax_rsi.set_yticks([20, 40, 60, 80])
ax_rsi.set_yticklabels(["20.00", "40.00", "60.00", "80.00"])
ax_rsi.tick_params(axis="y", length=0, pad=13, labelsize=15.8, labelcolor=INK)
ax_rsi.set_xticks(tick_bars)
ax_rsi.set_xticklabels(tick_text)
ax_rsi.tick_params(axis="x", length=0, pad=12.5, labelsize=15.8, labelcolor=INK)
for lab in ax_rsi.get_xticklabels():
    if lab.get_text() == "11":
        lab.set_fontweight("bold")

# ---------------- frame, masks, boxes ----------------
ident = IdentityTransform()


def add_rect(x0, y0, x1, y1, **kw):
    r = Rectangle((px(x0), py(y1)), px(x1) - px(x0), py(y0) - py(y1), transform=ident, **kw)
    fig.add_artist(r)
    return r


def add_box(x0, y0, x1, y1, fc, ec="none", r=4):
    b = FancyBboxPatch((px(x0), py(y1)), px(x1) - px(x0), py(y0) - py(y1),
                       boxstyle=f"round,pad=0,rounding_size={r}", transform=ident,
                       fc=fc, ec=ec, lw=1.2)
    fig.add_artist(b)


# hide the clipped edge labels like the price scale does
add_rect(1500, 30.5, 1556, 67, fc="white", ec="none")
add_rect(1500, 663, 1556, 672, fc="white", ec="none")

add_rect(11, 30, 1557, 880, fill=False, ec=BORDER, lw=1.5)
fig.add_artist(Line2D([px(11), px(1557)], [py(664), py(664)], transform=ident,
                      color=BORDER, lw=2.2))
fig.add_artist(Line2D([px(90), px(90)], [py(30), py(849)], transform=ident,
                      color=GRID, lw=1.5))

add_box(17, 34, 83, 62, fc="white", ec=BORDER, r=6)
add_box(1504, 34, 1552.6, 62, fc="white", ec=BORDER, r=6)
fig.text(fx(24.6), fy(48), "USD", fontsize=15, color=INK, ha="left", va="center")
fig.text(fx(1528.3), fy(48), "USD", fontsize=15, color=INK, ha="center", va="center")

TAG_H = 18.5


def tag(ax, value, text, face, ink, x0, x1, stack=0):
    yc = ax.transData.transform((0, value))[1] / K      # in reference px, from bottom
    yc = H / K - yc - stack * TAG_H                    # convert to top-down
    add_box(x0, yc - TAG_H / 2, x1, yc + TAG_H / 2, fc=face, r=3)
    fig.text(fx((x0 + x1) / 2), fy(yc), text, fontsize=15.5, color=ink,
             ha="center", va="center")


tag(ax_vix, vix_last, f"{vix_last:.2f}", "black", "white", 1500.8, 1552.4)
tag(ax_vix, vix_last, f"{vix_ema_last:.2f}", EMA_BLUE, "white", 1500.8, 1552.4, stack=1)
tag(ax_rsi, rsi_last, f"{rsi_last:.2f}", PURPLE, "white", 1500.8, 1552.4)
tag(ax_rsi, rsi_last, f"{rsi_ma_last:.2f}", YELLOW, INK, 1500.8, 1552.4, stack=1)
tag(ax_spx, spx_last, f"{spx_last:,.2f}", SPX_BLUE, "white", 17, 88)

# ---------------- legends and header ----------------
renderer = fig.canvas.get_renderer()


def chain(x, y, parts, size):
    cur = fx(x)
    for s, c in parts:
        t = fig.text(cur, fy(y), s, fontsize=size, color=c, ha="left", va="center")
        bb = t.get_window_extent(renderer=renderer)
        cur = bb.x1 / W


fig.text(fx(12), fy(17), "Jay1104 created with TradingView.com, May 12, 2026 17:42 UTC-4",
         fontsize=15.3, color=INK, ha="left", va="center")
chain(99.5, 47.4, [("Volatility S&P 500 Index · 1 · TVC  17.98  \u22120.03 (\u22120.17%)", INK)], 15.4)
chain(99.5, 66.3, [("EMA (10, close)", INK), ("  18.00", EMA_BLUE)], 15.4)
chain(99.5, 84.7, [("SPX · SPCFD", INK), ("  7,400.97  +0.01 (+0.00%)", SPX_BLUE)], 15.4)
chain(99.5, 682, [("RSI (14, close)", INK), ("  45.21", PURPLE), ("  47.40", YELLOW)], 15.4)

# partial first time label and the scale buttons
fig.text(fx(99.5), fy(866), ":00", fontsize=15.8, color=INK, ha="center", va="center")
for x, s in ((51, "Z"), (1528, "A")):
    fig.text(fx(x), fy(866), s, fontsize=13, color="#50535e", ha="center", va="center",
             bbox=dict(boxstyle="circle,pad=0.62", fc="#f0f3fa", ec="none"))

# TradingView logo
fig.add_artist(Rectangle((px(13.1), py(910.8)), px(34.2) - px(13.1), (910.8 - 905.3) * K,
                         transform=ident, fc=INK, ec="none"))
fig.add_artist(Rectangle((px(26.0), py(921.6)), px(34.2) - px(26.0), (921.6 - 905.3) * K,
                         transform=ident, fc=INK, ec="none"))
fig.add_artist(Circle((px(37.7), py(907.8)), 2.7 * K, transform=ident, fc=INK, ec="none"))
fig.add_artist(Polygon([(px(41.2), py(905.3)), (px(46.8), py(905.3)),
                        (px(38.6), py(921.6)), (px(32.6), py(921.6))],
                       closed=True, transform=ident, fc=INK, ec="none"))
fig.text(fx(54.5), fy(914), "TradingView", fontsize=25, fontweight="bold", color=INK,
         ha="left", va="center")

fig.savefig("out.png", dpi=100, facecolor="white")
